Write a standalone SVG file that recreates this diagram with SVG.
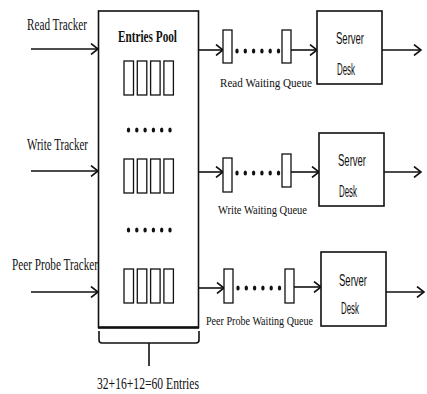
<svg xmlns="http://www.w3.org/2000/svg" width="427" height="394" viewBox="0 0 427 394">
<style>
.t{font-family:"Liberation Serif","Times New Roman",serif;font-size:16px;fill:#111}
.q{font-size:13px}
.b{font-weight:bold;font-size:17px}
.s{font-family:"Liberation Sans",Arial,sans-serif;font-size:16px;fill:#111}
.ln{stroke:#111;stroke-width:1.6;fill:none}
.box{stroke:#111;stroke-width:1.6;fill:#fff}
.ent{stroke:#111;stroke-width:1.3;fill:#fff}
.dot{fill:#111}
</style>
<defs>
<marker id="ah" markerWidth="10" markerHeight="12" refX="8" refY="6" orient="auto" markerUnits="userSpaceOnUse">
<path d="M1,0.5 L8,6 L1,11.5" fill="none" stroke="#111" stroke-width="1.6"/>
</marker>
<g id="dots">
<ellipse cx="0" cy="0" rx="1.7" ry="2.5" class="dot"/>
<ellipse cx="8.3" cy="0" rx="1.7" ry="2.5" class="dot"/>
<ellipse cx="16.6" cy="0" rx="1.7" ry="2.5" class="dot"/>
<ellipse cx="24.9" cy="0" rx="1.7" ry="2.5" class="dot"/>
<ellipse cx="33.2" cy="0" rx="1.7" ry="2.5" class="dot"/>
<ellipse cx="41.5" cy="0" rx="1.7" ry="2.5" class="dot"/>
</g>
<g id="entries">
<rect x="0" y="0" width="9.5" height="34" class="ent"/>
<rect x="13.3" y="0" width="9.5" height="34" class="ent"/>
<rect x="26.6" y="0" width="9.5" height="34" class="ent"/>
<rect x="39.9" y="0" width="9.5" height="34" class="ent"/>
</g>
</defs>

<g id="connectors">
<line x1="31" y1="49" x2="98" y2="49" class="ln" marker-end="url(#ah)"/>
<line x1="31" y1="171" x2="98" y2="171" class="ln" marker-end="url(#ah)"/>
<line x1="31" y1="292" x2="98" y2="292" class="ln" marker-end="url(#ah)"/>
<line x1="199" y1="50" x2="223" y2="50" class="ln" marker-end="url(#ah)"/>
<line x1="199" y1="172" x2="223" y2="172" class="ln" marker-end="url(#ah)"/>
<line x1="199" y1="288" x2="224" y2="288" class="ln" marker-end="url(#ah)"/>
<line x1="291" y1="50" x2="317" y2="50" class="ln" marker-end="url(#ah)"/>
<line x1="291" y1="172" x2="319" y2="172" class="ln" marker-end="url(#ah)"/>
<line x1="294" y1="287" x2="321" y2="287" class="ln" marker-end="url(#ah)"/>
<line x1="382" y1="50" x2="421" y2="50" class="ln" marker-end="url(#ah)"/>
<line x1="384" y1="172" x2="421" y2="172" class="ln" marker-end="url(#ah)"/>
<line x1="386" y1="292" x2="424" y2="292" class="ln" marker-end="url(#ah)"/>
</g>

<g id="read-tracker">
<text x="27" y="30" class="t" textLength="60" lengthAdjust="spacingAndGlyphs">Read Tracker</text>
</g>
<g id="write-tracker">
<text x="27" y="150" class="t" textLength="61" lengthAdjust="spacingAndGlyphs">Write Tracker</text>
</g>
<g id="peer-tracker">
<text x="12" y="270" class="t" textLength="86" lengthAdjust="spacingAndGlyphs">Peer Probe Tracker</text>
</g>

<g id="entries-pool">
<rect x="98.5" y="11" width="100" height="316.5" class="box"/>
<line x1="98" y1="327.5" x2="199" y2="327.5" stroke="#111" stroke-width="2.6"/>
<text x="118" y="42" class="t b" textLength="59" lengthAdjust="spacingAndGlyphs">Entries Pool</text>
<use href="#entries" x="124" y="61"/>
<use href="#dots" x="128.5" y="130"/>
<use href="#entries" x="124" y="159"/>
<use href="#dots" x="128.5" y="230"/>
<use href="#entries" x="124" y="269"/>
</g>

<g id="entries-brace">
<path d="M99,331 L99,340 Q99,343 102,343 L196,343 Q199,343 199,340 L199,331" class="ln"/>
<line x1="149" y1="343" x2="149" y2="366" class="ln"/>
<text x="97" y="389" class="t" textLength="102" lengthAdjust="spacingAndGlyphs">32+16+12=60 Entries</text>
</g>

<g id="read-queue">
<rect x="223" y="30" width="9" height="33" class="ent"/>
<use href="#dots" x="237" y="51"/>
<rect x="282" y="30" width="9" height="33" class="ent"/>
<text x="220" y="87" class="t q" textLength="92" lengthAdjust="spacingAndGlyphs">Read Waiting Queue</text>
</g>
<g id="write-queue">
<rect x="223" y="158" width="9" height="34" class="ent"/>
<use href="#dots" x="237" y="173"/>
<rect x="282" y="154" width="9" height="33" class="ent"/>
<text x="218" y="214" class="t q" textLength="89" lengthAdjust="spacingAndGlyphs">Write Waiting Queue</text>
</g>
<g id="peer-queue">
<rect x="224" y="269" width="9" height="34" class="ent"/>
<use href="#dots" x="238" y="288"/>
<rect x="285" y="269" width="9" height="34" class="ent"/>
<text x="206" y="325" class="t q" textLength="107" lengthAdjust="spacingAndGlyphs">Peer Probe Waiting Queue</text>
</g>

<g id="read-server">
<rect x="317" y="11" width="65" height="73" class="box"/>
<text x="336" y="44" class="s" textLength="28" lengthAdjust="spacingAndGlyphs">Server</text>
<text x="337" y="75" class="s" textLength="18" lengthAdjust="spacingAndGlyphs">Desk</text>
</g>
<g id="write-server">
<rect x="319" y="133" width="65" height="73" class="box"/>
<text x="338" y="166" class="s" textLength="28" lengthAdjust="spacingAndGlyphs">Server</text>
<text x="339" y="197" class="s" textLength="18" lengthAdjust="spacingAndGlyphs">Desk</text>
</g>
<g id="peer-server">
<rect x="321" y="252" width="65" height="74" class="box"/>
<text x="339" y="286" class="s" textLength="28" lengthAdjust="spacingAndGlyphs">Server</text>
<text x="341" y="314" class="s" textLength="18" lengthAdjust="spacingAndGlyphs">Desk</text>
</g>
</svg>
